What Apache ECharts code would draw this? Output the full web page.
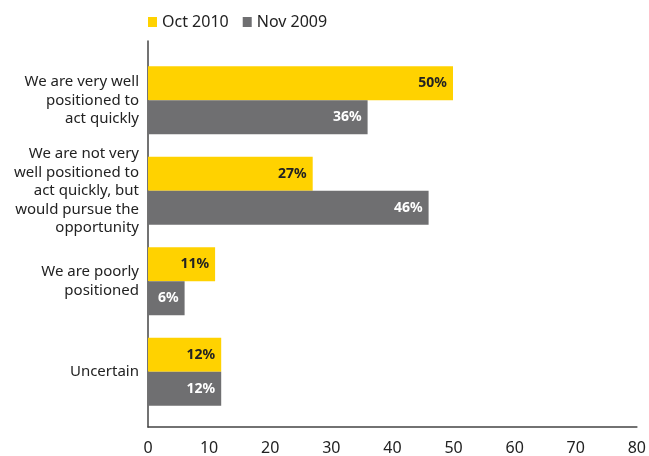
<!DOCTYPE html>
<html>
<head>
<meta charset="utf-8">
<script src="https://cdn.jsdelivr.net/npm/echarts@6/dist/echarts.min.js"></script>
<style>
  html, body { margin: 0; padding: 0; background: #fff; }
  #chart { width: 649px; height: 456px; }
</style>
</head>
<body>
<div id="chart"></div>
<script>
// categories, top to bottom
const categories = [
  "We are very well\npositioned to\nact quickly",
  "We are not very\nwell positioned to\nact quickly, but\nwould pursue the\nopportunity",
  "We are poorly\npositioned",
  "Uncertain"
];
const seriesNames = ["Oct 2010", "Nov 2009"];
const oct2010 = [50, 27, 11, 12];
const nov2009 = [36, 46, 6, 12];
const xTicks = [0, 80, 10]; // min, max, interval

const FONT = "'Noto Sans', sans-serif";
const YELLOW = "#ffd200";
const GREY = "#6f6f71";

const chart = echarts.init(document.getElementById("chart"), null, { renderer: "canvas" });

function barLabel(color) {
  return {
    show: true,
    position: "insideRight",
    distance: 6,
    formatter: "{c}%",
    color: color,
    fontFamily: FONT,
    fontWeight: "bold",
    fontSize: 14
  };
}

chart.setOption({
  animation: false,
  textStyle: { fontFamily: FONT },
  legend: {
    data: seriesNames,
    left: 143,
    top: 9,
    itemWidth: 9,
    itemHeight: 10,
    itemGap: 14,
    icon: "rect",
    textStyle: { fontFamily: FONT, fontSize: 16, color: "#222" }
  },
  grid: [
    // frame: carries the axis lines and tick labels
    { left: 148, right: 12, top: 41, bottom: 25 },
    // bars
    { left: 148, right: 13, top: 55, bottom: 39 }
  ],
  xAxis: [
    {
      gridIndex: 0,
      type: "value",
      min: xTicks[0],
      max: xTicks[1],
      interval: xTicks[2],
      axisLine: { show: true, lineStyle: { color: "#444", width: 1.5 } },
      axisTick: { show: false },
      splitLine: { show: false },
      axisLabel: { fontFamily: FONT, fontSize: 16, color: "#222", margin: 13 }
    },
    {
      gridIndex: 1,
      type: "value",
      min: xTicks[0],
      max: xTicks[1],
      show: false
    }
  ],
  yAxis: [
    {
      gridIndex: 0,
      type: "value",
      axisLine: { show: true, lineStyle: { color: "#444", width: 1.5 } },
      axisTick: { show: false },
      axisLabel: { show: false },
      splitLine: { show: false }
    },
    {
      gridIndex: 1,
      type: "category",
      inverse: true,
      data: categories,
      axisLine: { show: false },
      axisTick: { show: false },
      axisLabel: {
        margin: 9,
        fontFamily: FONT,
        fontSize: 15,
        lineHeight: 18.5,
        color: "#222",
        align: "right"
      }
    }
  ],
  series: [
    {
      name: seriesNames[0],
      type: "bar",
      xAxisIndex: 1,
      yAxisIndex: 1,
      data: oct2010,
      barGap: "0%",
      barCategoryGap: "25%",
      itemStyle: { color: YELLOW },
      label: barLabel("#222")
    },
    {
      name: seriesNames[1],
      type: "bar",
      xAxisIndex: 1,
      yAxisIndex: 1,
      data: nov2009,
      barGap: "0%",
      barCategoryGap: "25%",
      itemStyle: { color: GREY },
      label: barLabel("#fff")
    }
  ]
});
</script>
</body>
</html>
